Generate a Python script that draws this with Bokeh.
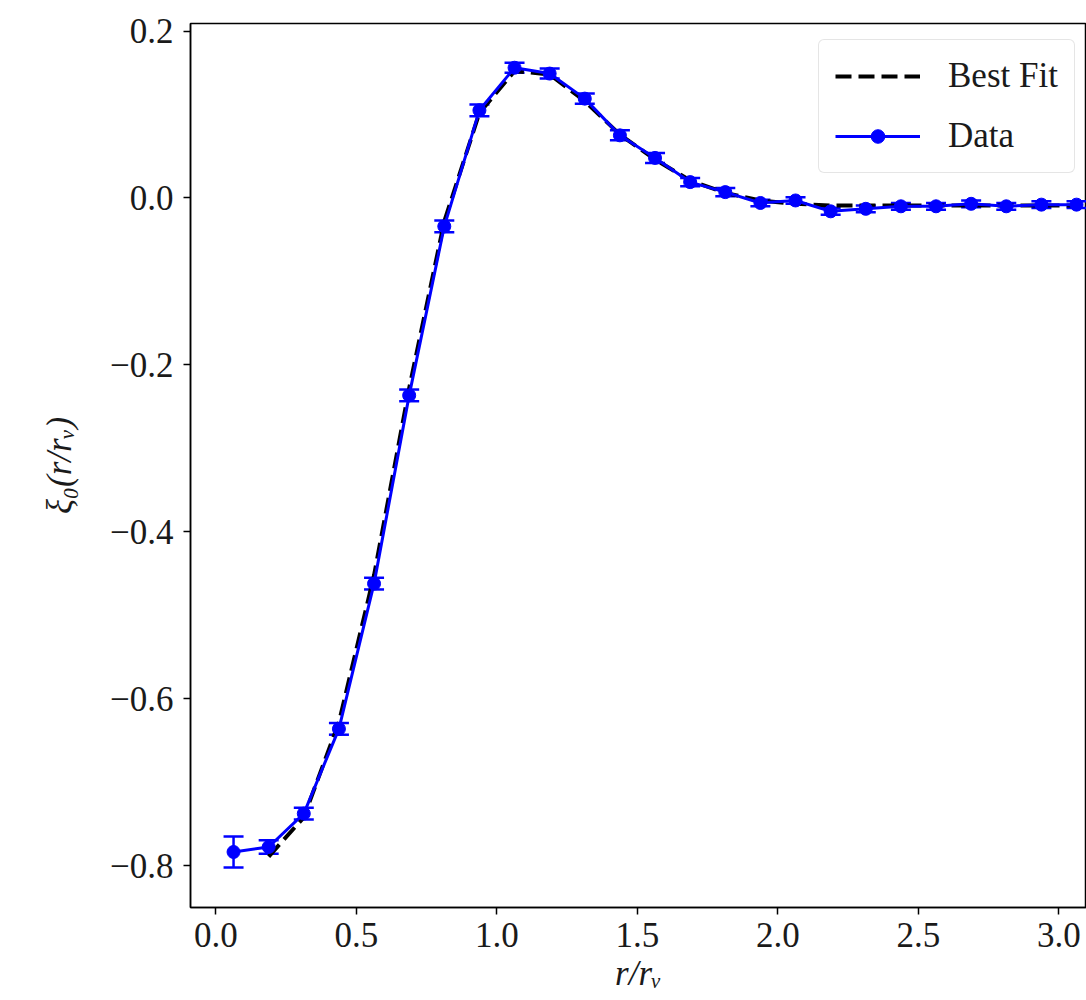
from bokeh.plotting import figure
from bokeh.models import (ColumnDataSource, Range1d, FixedTicker, CustomJSTickFormatter,
                          Whisker, TeeHead, Legend, LegendItem)
from bokeh.embed import file_html
from bokeh.resources import INLINE

# ---- data ----
r_data = [0.0625, 0.1875, 0.3125, 0.4375, 0.5625, 0.6875, 0.8125, 0.9375, 1.0625,
          1.1875, 1.3125, 1.4375, 1.5625, 1.6875, 1.8125, 1.9375, 2.0625, 2.1875,
          2.3125, 2.4375, 2.5625, 2.6875, 2.8125, 2.9375, 3.0625]
xi_data = [-0.7835, -0.7775, -0.7375, -0.636, -0.462, -0.2365, -0.034, 0.105, 0.156,
           0.149, 0.119, 0.075, 0.048, 0.019, 0.007, -0.006, -0.003, -0.016,
           -0.013, -0.010, -0.010, -0.007, -0.010, -0.008, -0.008]
xi_err = [0.0185, 0.008, 0.007, 0.007, 0.007, 0.007, 0.007, 0.007, 0.006,
          0.006, 0.006, 0.006, 0.006, 0.005, 0.005, 0.004, 0.004, 0.004,
          0.004, 0.004, 0.004, 0.004, 0.004, 0.004, 0.004]

r_fit = [0.1875, 0.3125, 0.4375, 0.5625, 0.6875, 0.8125, 0.9375, 1.0625,
         1.1875, 1.3125, 1.4375, 1.5625, 1.6875, 1.8125, 1.9375, 2.0625, 2.1875,
         2.3125, 2.4375, 2.5625, 2.6875, 2.8125, 2.9375, 3.0625]
xi_fit = [-0.789, -0.742, -0.628, -0.452, -0.228, -0.028, 0.102, 0.152,
          0.148, 0.116, 0.076, 0.046, 0.021, 0.006, -0.003, -0.007, -0.009,
          -0.009, -0.009, -0.009, -0.009, -0.009, -0.009, -0.009]

x_ticks = [0.0, 0.5, 1.0, 1.5, 2.0, 2.5, 3.0]
y_ticks = [-0.8, -0.6, -0.4, -0.2, 0.0, 0.2]

FONT = "Liberation Serif"
FS = "35px"

src = ColumnDataSource(dict(
    x=r_data, y=xi_data,
    upper=[a + b for a, b in zip(xi_data, xi_err)],
    lower=[a - b for a, b in zip(xi_data, xi_err)],
))
fit_src = ColumnDataSource(dict(x=r_fit, y=xi_fit))

p = figure(width=1086, height=1000, output_backend="svg", toolbar_location=None,
           x_range=Range1d(-0.0907, 3.098), y_range=Range1d(-0.850, 0.209),
           min_border_left=190, min_border_right=0, min_border_top=23, min_border_bottom=93)

p.background_fill_color = "white"
p.border_fill_color = "white"
p.outline_line_color = "black"
p.outline_line_width = 1.5
p.xgrid.visible = False
p.ygrid.visible = False

fit_r = p.line("x", "y", source=fit_src, line_color="black", line_width=4, line_dash="16 7")

wh = Whisker(source=src, base="x", upper="upper", lower="lower", dimension="height",
             line_color="blue", line_width=2.5,
             upper_head=TeeHead(size=20, line_color="blue", line_width=2.5),
             lower_head=TeeHead(size=20, line_color="blue", line_width=2.5))
p.add_layout(wh)

data_line = p.line("x", "y", source=src, line_color="blue", line_width=3)
data_pts = p.scatter("x", "y", source=src, marker="circle", size=13,
                     fill_color="blue", line_color="blue")

fmt = CustomJSTickFormatter(code="return tick.toFixed(1).replace('-', '\\u2212');")

for ax, ticks in ((p.xaxis[0], x_ticks), (p.yaxis[0], y_ticks)):
    ax.ticker = FixedTicker(ticks=ticks)
    ax.formatter = fmt
    ax.minor_tick_line_color = None
    ax.major_tick_out = 7
    ax.major_tick_in = 0
    ax.major_tick_line_width = 1.5
    ax.axis_line_width = 1.5
    ax.major_label_text_font = FONT
    ax.major_label_text_font_size = FS
    ax.major_label_text_color = "#1a1a1a"
    ax.axis_label_text_font = FONT
    ax.axis_label_text_font_size = FS
    ax.axis_label_text_font_style = "italic"
    ax.axis_label_text_color = "#1a1a1a"

p.xaxis[0].axis_label = "r/rᵥ"
p.xaxis[0].major_label_standoff = 8
p.xaxis[0].axis_label_standoff = 4
p.yaxis[0].axis_label = "ξ₀(r/rᵥ)"
p.yaxis[0].major_label_standoff = 10
p.yaxis[0].axis_label_standoff = 28

legend = Legend(items=[
    LegendItem(label="Best Fit", renderers=[fit_r]),
    LegendItem(label="Data", renderers=[data_line, data_pts]),
], location=(628, 734))
legend.label_text_font = FONT
legend.label_text_font_size = FS
legend.label_text_color = "#1a1a1a"
legend.glyph_width = 85
legend.glyph_height = 34
legend.label_standoff = 28
legend.padding = 16
legend.spacing = 20
legend.margin = 0
legend.border_line_color = "#cccccc"
legend.border_line_width = 1.5
legend.border_radius = 6
legend.background_fill_color = "white"
legend.background_fill_alpha = 0.8
p.add_layout(legend)

open("out.html", "w").write(file_html(p, INLINE))
